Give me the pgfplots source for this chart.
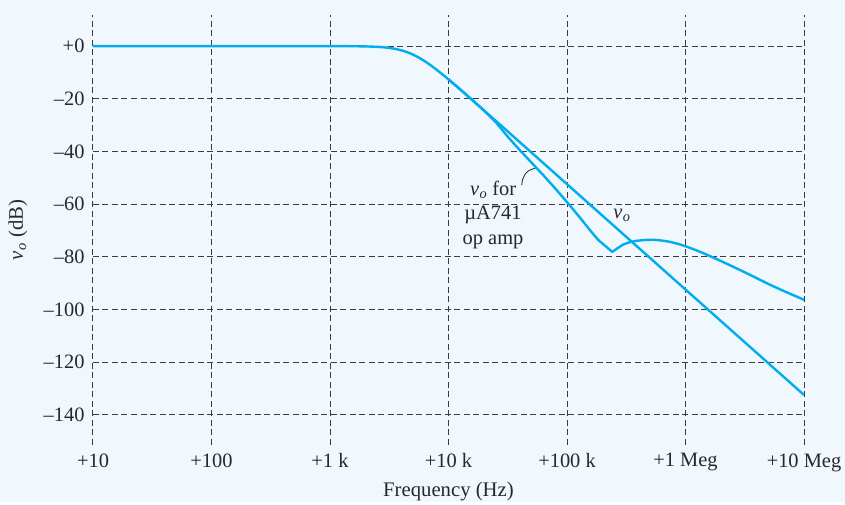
\documentclass[border=0pt]{standalone}
\usepackage{fontspec}
\setmainfont{Liberation Serif}
\usepackage{pgfplots}
\pgfplotsset{compat=1.18}
\usetikzlibrary{backgrounds,calc}
\definecolor{bgc}{RGB}{240,247,253}
\definecolor{cur}{RGB}{0,174,239}
\definecolor{txt}{RGB}{40,40,40}
\definecolor{gridc}{RGB}{60,60,60}
\newcommand{\vo}{\textit{v}\kern0.02em\textsubscript{\textit{o}}}
\begin{document}
\begin{tikzpicture}
\begin{axis}[
 scale only axis, width=711bp, height=430bp,
 xmode=log, xmin=10, xmax=1e7, ymin=-151.4, ymax=11.8,
 axis line style={draw=none},
 major tick length=0pt, minor tick length=0pt,
 xtick={10,100,1000,10000,100000,1000000,10000000},
 xticklabels={+10,+100,+1 k,+10 k,+100 k,+1 Meg,+10 Meg},
 ytick={0,-20,-40,-60,-80,-100,-120,-140},
 yticklabels={+0,–20,–40,–60,–80,–100,–120,–140},
 grid=major,
 major grid style={gridc, line width=1bp, dash pattern=on 6bp off 3.5bp},
 tick label style={font=\fontsize{20.5}{24}\selectfont, text=txt},
 xticklabel style={yshift=-5bp},
 yticklabel style={xshift=-5bp},
 xlabel={Frequency (Hz)}, ylabel={\vo{} (dB)},
 label style={font=\fontsize{20.8}{24}\selectfont, text=txt},
 xlabel style={at={(axis description cs:0.5,-0.1093)}, anchor=center},
 ylabel style={at={(axis description cs:-0.1055,0.5)}, anchor=center, rotate=0},
]
\addplot[cur, line width=2.4bp, line join=round] coordinates {
(10,0) (100,0) (1000,-0.01) (1585,-0.05) (1995,-0.12) (2512,-0.29) (2818,-0.45)
(3162,-0.70) (3548,-1.06) (3981,-1.57) (4467,-2.28) (5012,-3.21) (5623,-4.37)
(6310,-5.74) (7079,-7.30) (7943,-8.99) (8913,-10.78) (10000,-12.64) (12589,-16.5)
(15849,-20.44) (19953,-24.41) (25119,-28.41) (31623,-32.40) (39811,-36.40)
(63096,-44.40) (100000,-52.4) (316228,-72.4) (1000000,-92.4) (3162278,-112.4) (10000000,-132.4)
};
\addplot[cur, line width=2.4bp, line join=round] coordinates {
(10000,-12.64) (12589,-16.5) (15849,-20.44) (19953,-24.5) (25119,-28.9) (31623,-34.4)
(39811,-39.4) (50119,-44.2) (63096,-49.0) (79433,-54.0) (100000,-59.2) (125893,-64.6)
(158489,-70.2) (183654,-73.6) (240991,-78.1) (269153,-76.6) (298538,-75.3)
(338844,-74.4) (387258,-73.9) (446684,-73.6) (535797,-73.5) (630957,-73.8)
(739605,-74.3) (870964,-75.1) (1020939,-76.1) (1202264,-77.3) (1412538,-78.6)
(1828100,-80.8) (2511886,-83.7) (3499452,-86.8) (5011872,-90.3) (6698846,-92.9) (10000000,-96.3)
};
\node[align=center, text=txt, font=\fontsize{20.5}{25}\selectfont] at (axis cs:23768,-64.1) {\vo{} for\\µA741\\op amp};
\node[text=txt, font=\fontsize{20.5}{25}\selectfont] at (axis cs:291072,-64.1) {\vo};
\draw[txt, line width=0.8bp] (axis cs:53703,-46.4) .. controls (axis cs:44260,-47.06) and (axis cs:41690,-50.1) .. (axis cs:41495,-52.75);
\coordinate (sw) at (rel axis cs:0,0);
\end{axis}
\begin{scope}[on background layer]
\fill[bgc] ($(sw)+(-93bp,-57bp)$) rectangle ++(845bp,502bp);
\end{scope}
\end{tikzpicture}
\end{document}
